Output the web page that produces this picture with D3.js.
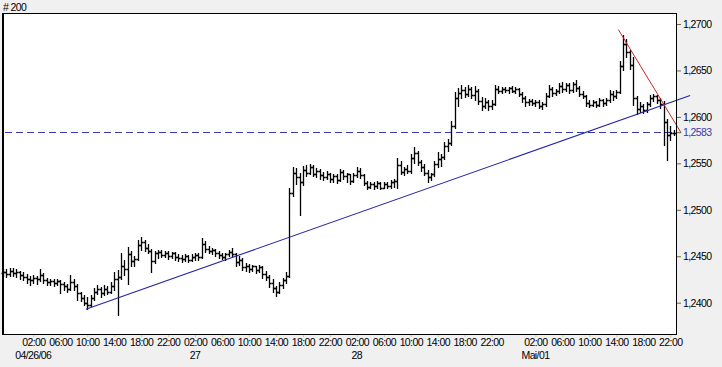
<!DOCTYPE html>
<html><head>
<meta charset="utf-8">
<script src="https://d3js.org/d3.v7.min.js"></script>
<style>
  body { margin: 0; background: #f0f0f0; }
  svg { display: block; font-family: "Liberation Sans", Arial, sans-serif; }
  .lbl { font-size: 10.5px; fill: #000; letter-spacing: -0.6px; }
</style>
</head>
<body>
<svg id="chart" width="722" height="367"></svg>
<script>

// half hour OHLC bars, EUR/USD, 25.04.2006 21:30 .. 01.05.2006 22:30
const opens = [
  1.2432,1.2433,1.2431,1.2434,1.2432,1.2433,1.2430,1.2428,1.2426,1.2424,
  1.2427,1.2425,1.2430,1.2424,1.2422,1.2423,1.2421,1.2423,1.2420,1.2418,
  1.2415,1.2422,1.2418,1.2410,1.2405,1.2400,1.2398,1.2405,1.2412,1.2415,
  1.2410,1.2415,1.2412,1.2418,1.2425,1.2428,1.2440,1.2436,1.2452,1.2445,
  1.2447,1.2462,1.2465,1.2459,1.2456,1.2445,1.2453,1.2455,1.2451,1.2454,
  1.2450,1.2453,1.2449,1.2448,1.2447,1.2450,1.2446,1.2449,1.2451,1.2449,
  1.2463,1.2458,1.2456,1.2457,1.2453,1.2451,1.2449,1.2452,1.2455,1.2452,
  1.2444,1.2446,1.2438,1.2440,1.2436,1.2439,1.2435,1.2438,1.2431,1.2428,
  1.2421,1.2416,1.2412,1.2419,1.2424,1.2429,1.2518,1.2540,1.2535,1.2530,
  1.2543,1.2540,1.2546,1.2539,1.2542,1.2537,1.2535,1.2539,1.2533,1.2536,
  1.2532,1.2541,1.2536,1.2538,1.2531,1.2537,1.2542,1.2537,1.2529,1.2525,
  1.2528,1.2526,1.2529,1.2524,1.2528,1.2526,1.2530,1.2531,1.2548,1.2541,
  1.2544,1.2542,1.2556,1.2561,1.2551,1.2546,1.2540,1.2535,1.2538,1.2549,
  1.2555,1.2557,1.2569,1.2572,1.2590,1.2620,1.2626,1.2629,1.2625,1.2630,
  1.2624,1.2628,1.2617,1.2612,1.2616,1.2612,1.2614,1.2630,1.2628,1.2630,
  1.2629,1.2631,1.2628,1.2630,1.2625,1.2620,1.2616,1.2617,1.2615,1.2616,
  1.2612,1.2614,1.2623,1.2630,1.2626,1.2628,1.2633,1.2630,1.2634,1.2629,
  1.2635,1.2631,1.2625,1.2623,1.2615,1.2613,1.2616,1.2613,1.2618,1.2615,
  1.2618,1.2625,1.2622,1.2627,1.2655,1.2678,1.2670,1.2656,1.2620,1.2608,
  1.2612,1.2607,1.2614,1.2620,1.2622,1.2618,1.2614,1.2595,1.2580,1.2583
];
const highs = [
  1.2436,1.2436,1.2437,1.2437,1.2436,1.2434,1.2433,1.2431,1.2429,1.2430,
  1.2429,1.2436,1.2432,1.2427,1.2426,1.2425,1.2426,1.2424,1.2422,1.2420,
  1.2430,1.2425,1.2420,1.2412,1.2408,1.2406,1.2408,1.2416,1.2419,1.2417,
  1.2419,1.2418,1.2422,1.2433,1.2435,1.2454,1.2446,1.2460,1.2456,1.2450,
  1.2468,1.2471,1.2468,1.2463,1.2458,1.2456,1.2457,1.2457,1.2456,1.2456,
  1.2455,1.2455,1.2452,1.2451,1.2452,1.2451,1.2452,1.2453,1.2453,1.2470,
  1.2466,1.2461,1.2459,1.2458,1.2456,1.2453,1.2454,1.2457,1.2459,1.2453,
  1.2450,1.2448,1.2443,1.2442,1.2441,1.2440,1.2441,1.2439,1.2434,1.2430,
  1.2425,1.2418,1.2422,1.2427,1.2433,1.2524,1.2546,1.2545,1.2540,1.2547,
  1.2548,1.2549,1.2548,1.2545,1.2544,1.2541,1.2542,1.2540,1.2539,1.2538,
  1.2544,1.2543,1.2540,1.2539,1.2540,1.2546,1.2545,1.2538,1.2531,1.2530,
  1.2530,1.2531,1.2530,1.2530,1.2530,1.2532,1.2533,1.2556,1.2553,1.2546,
  1.2548,1.2560,1.2568,1.2563,1.2554,1.2549,1.2543,1.2540,1.2552,1.2562,
  1.2560,1.2573,1.2576,1.2596,1.2627,1.2631,1.2634,1.2632,1.2634,1.2632,
  1.2633,1.2630,1.2621,1.2620,1.2618,1.2618,1.2634,1.2633,1.2632,1.2632,
  1.2632,1.2633,1.2632,1.2631,1.2627,1.2622,1.2619,1.2619,1.2618,1.2618,
  1.2616,1.2626,1.2634,1.2632,1.2630,1.2636,1.2638,1.2636,1.2636,1.2638,
  1.2640,1.2633,1.2628,1.2624,1.2618,1.2618,1.2617,1.2620,1.2619,1.2620,
  1.2629,1.2628,1.2629,1.2660,1.2688,1.2684,1.2672,1.2664,1.2622,1.2616,
  1.2614,1.2616,1.2624,1.2625,1.2624,1.2620,1.2617,1.2598,1.2590,1.2586
];
const lows = [
  1.2429,1.2428,1.2429,1.2429,1.2428,1.2426,1.2424,1.2421,1.2419,1.2421,
  1.2420,1.2423,1.2421,1.2419,1.2419,1.2418,1.2419,1.2410,1.2414,1.2411,
  1.2414,1.2414,1.2403,1.2402,1.2397,1.2393,1.2396,1.2403,1.2409,1.2406,
  1.2408,1.2409,1.2410,1.2414,1.2387,1.2426,1.2430,1.2420,1.2440,1.2439,
  1.2446,1.2457,1.2456,1.2454,1.2433,1.2443,1.2448,1.2449,1.2449,1.2447,
  1.2448,1.2446,1.2445,1.2444,1.2445,1.2444,1.2445,1.2446,1.2446,1.2448,
  1.2455,1.2453,1.2452,1.2450,1.2448,1.2447,1.2446,1.2450,1.2450,1.2439,
  1.2441,1.2435,1.2434,1.2433,1.2434,1.2432,1.2433,1.2427,1.2424,1.2417,
  1.2412,1.2407,1.2410,1.2416,1.2421,1.2428,1.2515,1.2528,1.2494,1.2527,
  1.2536,1.2538,1.2536,1.2535,1.2533,1.2532,1.2533,1.2530,1.2530,1.2529,
  1.2531,1.2533,1.2530,1.2528,1.2530,1.2535,1.2534,1.2527,1.2522,1.2523,
  1.2522,1.2524,1.2522,1.2523,1.2523,1.2524,1.2525,1.2524,1.2538,1.2537,
  1.2540,1.2540,1.2550,1.2548,1.2542,1.2537,1.2530,1.2532,1.2536,1.2546,
  1.2547,1.2555,1.2563,1.2570,1.2588,1.2612,1.2620,1.2621,1.2623,1.2620,
  1.2618,1.2614,1.2607,1.2610,1.2607,1.2609,1.2613,1.2626,1.2626,1.2627,
  1.2626,1.2627,1.2626,1.2623,1.2616,1.2612,1.2613,1.2613,1.2612,1.2610,
  1.2609,1.2612,1.2621,1.2622,1.2624,1.2626,1.2627,1.2628,1.2626,1.2627,
  1.2628,1.2622,1.2620,1.2612,1.2611,1.2612,1.2611,1.2612,1.2612,1.2613,
  1.2616,1.2618,1.2620,1.2626,1.2650,1.2665,1.2652,1.2613,1.2603,1.2605,
  1.2604,1.2605,1.2612,1.2617,1.2615,1.2610,1.2570,1.2554,1.2575,1.2580
];
const closes = [
  1.2433,1.2431,1.2434,1.2432,1.2433,1.2430,1.2428,1.2426,1.2424,1.2427,
  1.2425,1.2430,1.2424,1.2422,1.2423,1.2421,1.2423,1.2420,1.2418,1.2415,
  1.2422,1.2418,1.2410,1.2405,1.2400,1.2398,1.2405,1.2412,1.2415,1.2410,
  1.2415,1.2412,1.2418,1.2425,1.2428,1.2440,1.2436,1.2452,1.2445,1.2447,
  1.2462,1.2465,1.2459,1.2456,1.2445,1.2453,1.2455,1.2451,1.2454,1.2450,
  1.2453,1.2449,1.2448,1.2447,1.2450,1.2446,1.2449,1.2451,1.2449,1.2463,
  1.2458,1.2456,1.2457,1.2453,1.2451,1.2449,1.2452,1.2455,1.2452,1.2444,
  1.2446,1.2438,1.2440,1.2436,1.2439,1.2435,1.2438,1.2431,1.2428,1.2421,
  1.2416,1.2412,1.2419,1.2424,1.2429,1.2518,1.2540,1.2535,1.2530,1.2543,
  1.2540,1.2546,1.2539,1.2542,1.2537,1.2535,1.2539,1.2533,1.2536,1.2532,
  1.2541,1.2536,1.2538,1.2531,1.2537,1.2542,1.2537,1.2529,1.2525,1.2528,
  1.2526,1.2529,1.2524,1.2528,1.2526,1.2530,1.2531,1.2548,1.2541,1.2544,
  1.2542,1.2556,1.2561,1.2551,1.2546,1.2540,1.2535,1.2538,1.2549,1.2555,
  1.2557,1.2569,1.2572,1.2590,1.2620,1.2626,1.2629,1.2625,1.2630,1.2624,
  1.2628,1.2617,1.2612,1.2616,1.2612,1.2614,1.2630,1.2628,1.2630,1.2629,
  1.2631,1.2628,1.2630,1.2625,1.2620,1.2616,1.2617,1.2615,1.2616,1.2612,
  1.2614,1.2623,1.2630,1.2626,1.2628,1.2633,1.2630,1.2634,1.2629,1.2635,
  1.2631,1.2625,1.2623,1.2615,1.2613,1.2616,1.2613,1.2618,1.2615,1.2618,
  1.2625,1.2622,1.2627,1.2655,1.2678,1.2670,1.2656,1.2620,1.2608,1.2612,
  1.2607,1.2614,1.2620,1.2622,1.2618,1.2614,1.2595,1.2580,1.2583,1.2583
];

// trading sessions: first bar time and number of 30 min bars
const sessionStarts = ["2006-04-25 21:30", "2006-04-30 21:30"];
const sessionBars = [149, 51];

const priceTicks = [1.2400, 1.2450, 1.2500, 1.2550, 1.2600, 1.2650, 1.2700];
const lastPrice = 1.2583;
// days that get time labels, and the text under their first tick
const labelDays = ["2006-04-26", "2006-04-27", "2006-04-28", "2006-05-01"];
const dayLabels = ["04/26/06", "27", "28", "Mai/01"];

// drawn trend lines: [bar index, price] pairs
const supportLine = [[24.6, 1.2393], [203.9, 1.2623]];
const resistLine = [[182.6, 1.2694], [201.2, 1.2583]];

const svg = d3.select("#chart");
const plot = { left: 3, top: 13, right: 677, bottom: 335 };

const x = d3.scaleLinear().domain([0, 200]).range([plot.left, plot.right]);
const y = d3.scaleLinear().domain([1.24, 1.27]).range([302.7, 24]);

const de = d3.formatLocale({ decimal: ",", thousands: ".", grouping: [3], currency: ["", "€"] });
const fmt = de.format(".4f");

// bar times
const parse = d3.timeParse("%Y-%m-%d %H:%M");
const dayKey = d3.timeFormat("%Y-%m-%d");
let times = [];
sessionStarts.forEach((s, k) => {
  const t0 = parse(s);
  for (let j = 0; j < sessionBars[k]; j++) times.push(d3.timeMinute.offset(t0, 30 * j));
});

const bars = closes.map((c, i) => ({ i: i, o: opens[i], h: highs[i], l: lows[i], c: c }));

svg.append("rect").attr("x", 0).attr("y", 0).attr("width", 722).attr("height", 367).attr("fill", "#f0f0f0");
svg.append("rect")
  .attr("x", plot.left).attr("y", plot.top)
  .attr("width", plot.right - plot.left).attr("height", plot.bottom - plot.top)
  .attr("fill", "#fff");

svg.append("text").attr("class", "lbl").attr("x", 3).attr("y", 11).text("# 200");

// last price line
svg.append("line")
  .attr("x1", plot.left + 2).attr("x2", plot.right)
  .attr("y1", Math.round(y(lastPrice)) - 0.5).attr("y2", Math.round(y(lastPrice)) - 0.5)
  .attr("stroke", "#3a3aa8").attr("stroke-width", 1).attr("stroke-dasharray", "7,4");

// OHLC bars
const px = v => Math.round(v) + 0.5;
svg.append("g").selectAll("path").data(bars).join("path")
  .attr("fill", "none").attr("stroke", "#000").attr("stroke-width", 1.3)
  .attr("d", d => {
    const cx = px(x(d.i));
    return "M" + cx + "," + Math.round(y(d.h)) + "V" + (Math.round(y(d.l)) + 1) +
      "M" + (cx - 2) + "," + px(y(d.o)) + "H" + cx +
      "M" + cx + "," + px(y(d.c)) + "H" + (cx + 2);
  });

// trend lines
const tl = d3.line().x(d => x(d[0])).y(d => y(d[1]));
svg.append("path").attr("d", tl(supportLine)).attr("fill", "none").attr("stroke", "#2424a6").attr("stroke-width", 1.1);
svg.append("path").attr("d", tl(resistLine)).attr("fill", "none").attr("stroke", "#d42424").attr("stroke-width", 1);

// frame
svg.append("rect")
  .attr("x", plot.left + 0.5).attr("y", plot.top + 0.5)
  .attr("width", plot.right - plot.left - 1).attr("height", plot.bottom - plot.top - 1)
  .attr("fill", "none").attr("stroke", "#000").attr("stroke-width", 1);
svg.append("line").attr("x1", plot.left - 0.5).attr("x2", plot.left - 0.5)
  .attr("y1", plot.top).attr("y2", plot.bottom).attr("stroke", "#000");

// price axis
const yAxis = d3.axisRight(y).tickValues(priceTicks).tickFormat(fmt).tickSize(4).tickPadding(2);
const ya = svg.append("g").attr("transform", "translate(" + plot.right + ",0)").call(yAxis);
ya.select(".domain").remove();
ya.selectAll(".tick line").attr("stroke", "#6b6b3a");
ya.selectAll(".tick text").attr("class", "lbl").attr("font-family", null).attr("font-size", null);

// last price label
svg.append("line").attr("x1", plot.right).attr("x2", plot.right + 4)
  .attr("y1", y(lastPrice)).attr("y2", y(lastPrice)).attr("stroke", "#6b6b3a");
svg.append("text").attr("class", "lbl").attr("x", plot.right + 6).attr("y", y(lastPrice))
  .attr("dy", "0.32em").style("fill", "#3a3aa8").text(fmt(lastPrice));

// time axis: every 4 hours starting 02:00, only on the labelled days
const tickIdx = times.map((t, i) => i).filter(i =>
  times[i].getMinutes() === 0 && times[i].getHours() % 4 === 2 && labelDays.includes(dayKey(times[i])));
const xAxis = d3.axisBottom(x).tickValues(tickIdx).tickFormat(i => d3.timeFormat("%H:%M")(times[i])).tickSize(2).tickPadding(2);
const xa = svg.append("g").attr("transform", "translate(0," + plot.bottom + ")").call(xAxis);
xa.select(".domain").remove();
xa.selectAll(".tick line").attr("stroke", "#c8c890");
xa.selectAll(".tick text").attr("class", "lbl").attr("font-family", null).attr("font-size", null);

// day labels under the first tick of each day
const firstOfDay = labelDays.map(dk => tickIdx.find(i => dayKey(times[i]) === dk));
svg.append("g").selectAll("text").data(firstOfDay).join("text")
  .attr("class", "lbl").attr("text-anchor", "middle")
  .attr("x", d => x(d)).attr("y", 359)
  .text((d, k) => dayLabels[k]);

</script>
</body>
</html>
